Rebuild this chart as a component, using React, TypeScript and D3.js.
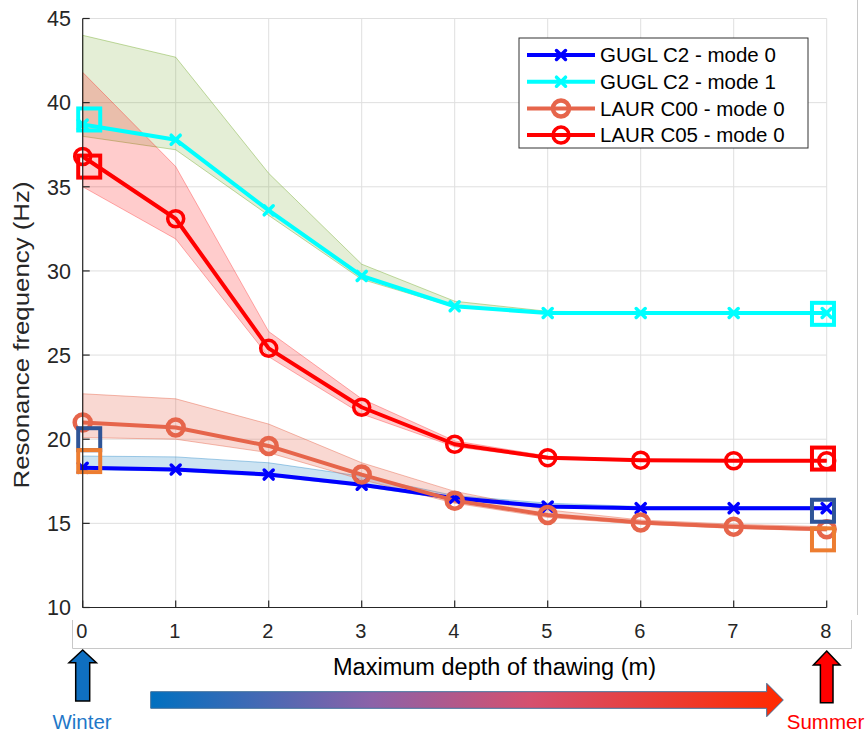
import React from "react";
import * as d3 from "d3";

const depth = [0, 1, 2, 3, 4, 5, 6, 7, 8];
const xTicks = [0, 1, 2, 3, 4, 5, 6, 7, 8];
const yTicks = [10, 15, 20, 25, 30, 35, 40, 45];

const guglMode0 = [18.3, 18.2, 17.9, 17.3, 16.5, 16.0, 15.9, 15.9, 15.9];
const guglMode0Upper = [19.0, 18.95, 18.6, 17.8, 16.65, 16.2, 16.0, 16.0, 16.0];
const guglMode0Lower = [18.2, 18.1, 17.8, 17.2, 16.4, 15.9, 15.85, 15.85, 15.85];

const guglMode1 = [38.7, 37.8, 33.6, 29.7, 27.9, 27.5, 27.5, 27.5, 27.5];
const guglMode1Upper = [44.0, 42.7, 35.8, 30.4, 28.2, 27.6, 27.55, 27.55, 27.55];
const guglMode1Lower = [38.0, 37.2, 33.3, 29.5, 27.85, 27.45, 27.45, 27.45, 27.45];

const laurC00 = [21.0, 20.7, 19.6, 17.9, 16.35, 15.5, 15.05, 14.8, 14.65];
const laurC00Upper = [22.7, 22.4, 20.9, 18.6, 16.9, 15.8, 15.2, 14.95, 14.8];
const laurC00Lower = [20.1, 20.0, 19.2, 17.6, 16.2, 15.35, 14.95, 14.7, 14.55];

const laurC05 = [36.8, 33.1, 25.4, 21.9, 19.7, 18.9, 18.75, 18.72, 18.72];
const laurC05Upper = [41.8, 36.2, 26.4, 22.4, 19.9, 19.0, 18.8, 18.78, 18.78];
const laurC05Lower = [35.0, 31.9, 24.9, 21.5, 19.55, 18.85, 18.7, 18.68, 18.68];

const squareX = [0.07, 7.96];
const squareWinter = [39.0, 36.2, 20.0, 18.7];
const squareSummer = [27.45, 18.85, 15.75, 14.05];
const squareColors = ["#00FFFF", "#FF0000", "#2F5597", "#ED7D31"];

const seriesNames = ["GUGL C2 - mode 0", "GUGL C2 - mode 1", "LAUR C00 - mode 0", "LAUR C05 - mode 0"];

const W = 866;
const H = 736;
const FONT = "'Liberation Sans', Arial, Helvetica, sans-serif";

export default function App() {
  const x = d3.scaleLinear().domain([0, 8]).range([82.7, 826.7]);
  const y = d3.scaleLinear().domain([10, 45]).range([607.5, 18.5]);

  const series = [
    { name: seriesNames[0], v: guglMode0, up: guglMode0Upper, lo: guglMode0Lower, color: "#0000FF", marker: "x", bandFill: "rgb(0,114,189)", bandOpacity: 0.2, bandEdge: "rgba(0,114,189,0.35)" },
    { name: seriesNames[1], v: guglMode1, up: guglMode1Upper, lo: guglMode1Lower, color: "#00FFFF", marker: "x", bandFill: "rgb(119,172,48)", bandOpacity: 0.2, bandEdge: "rgba(119,172,48,0.45)" },
    { name: seriesNames[2], v: laurC00, up: laurC00Upper, lo: laurC00Lower, color: "#E6654B", marker: "o", bandFill: "rgb(230,101,75)", bandOpacity: 0.25, bandEdge: "rgba(230,101,75,0.45)" },
    { name: seriesNames[3], v: laurC05, up: laurC05Upper, lo: laurC05Lower, color: "#FF0000", marker: "o", bandFill: "rgb(255,0,0)", bandOpacity: 0.2, bandEdge: "rgba(255,0,0,0.3)" },
  ];

  const area = d3
    .area<number>()
    .x((_, i) => x(depth[i]))
    .y0((_, i) => 0)
    .y1((_, i) => 0);

  const bandPath = (up: number[], lo: number[]) =>
    d3
      .area<number>()
      .x((_, i) => x(depth[i]))
      .y0((_, i) => y(lo[i]))
      .y1((_, i) => y(up[i]))(depth) as string;

  const linePath = (v: number[]) =>
    d3
      .line<number>()
      .x((_, i) => x(depth[i]))
      .y((d) => y(d))(v) as string;

  const drawMarker = (kind: string, cx: number, cy: number, color: string, key: string, isSalmon = false) => {
    if (kind === "x") {
      const s = 4.5;
      return (
        <g key={key} stroke={color} strokeWidth={3.5} strokeLinecap="round">
          <line x1={cx - s} y1={cy - s} x2={cx + s} y2={cy + s} />
          <line x1={cx - s} y1={cy + s} x2={cx + s} y2={cy - s} />
        </g>
      );
    }
    return <circle key={key} cx={cx} cy={cy} r={isSalmon ? 8 : 8} fill="none" stroke={color} strokeWidth={isSalmon ? 4.5 : 3.5} />;
  };

  const legendX = 519;
  const legendY = 38;
  const legendW = 289;
  const legendH = 110;
  const rowY = (i: number) => legendY + 17 + i * 26.7;

  // bottom decorations
  const wx = x(0);
  const sx = x(8);
  const upArrow = (cx: number, tipY: number, headHalf: number, headBottom: number, shaftHalf: number, bottom: number) =>
    `M${cx},${tipY} L${cx + headHalf},${headBottom} L${cx + shaftHalf},${headBottom} L${cx + shaftHalf},${bottom} L${cx - shaftHalf},${bottom} L${cx - shaftHalf},${headBottom} L${cx - headHalf},${headBottom} Z`;

  const gArrowPath = `M150.7,691.7 L766.7,691.7 L766.7,683.3 L783.3,700 L766.7,716.7 L766.7,708.3 L150.7,708.3 Z`;

  return (
    <svg width={W} height={H} style={{ position: "absolute", left: 0, top: 0, background: "#fff" }} fontFamily={FONT}>
      <defs>
        <linearGradient id="thawGrad" x1="0" x2="1" y1="0" y2="0">
          <stop offset="0" stopColor="#0070C0" />
          <stop offset="0.35" stopColor="#8C62A8" />
          <stop offset="0.6" stopColor="#D5506F" />
          <stop offset="1" stopColor="#FF2A00" />
        </linearGradient>
      </defs>
      <rect x={0} y={0} width={W} height={H} fill="#fff" />

      {/* grid */}
      <g stroke="#DFDFDF" strokeWidth={1}>
        {xTicks.map((t) => (
          <line key={"gx" + t} x1={x(t)} x2={x(t)} y1={y(45)} y2={y(10)} />
        ))}
        {yTicks.map((t) => (
          <line key={"gy" + t} x1={x(0)} x2={x(8)} y1={y(t)} y2={y(t)} />
        ))}
      </g>

      {/* bands */}
      {series.map((s, i) => (
        <path key={"band" + i} d={bandPath(s.up, s.lo)} fill={s.bandFill} fillOpacity={s.bandOpacity} stroke={s.bandEdge} strokeWidth={1} />
      ))}

      {/* lines */}
      {series.map((s, i) => (
        <path key={"line" + i} d={linePath(s.v)} fill="none" stroke={s.color} strokeWidth={4} strokeLinejoin="round" />
      ))}
      {series.map((s, i) =>
        s.v.map((v, j) => drawMarker(s.marker, x(depth[j]), y(v), s.color, `m${i}-${j}`, i === 2))
      )}

      {/* highlight squares */}
      {squareColors.map((c, i) => (
        <g key={"sq" + i} fill="none" stroke={c} strokeWidth={4}>
          <rect x={x(squareX[0]) - 11} y={y(squareWinter[i]) - 11} width={22} height={22} />
          <rect x={x(squareX[1]) - 11} y={y(squareSummer[i]) - 11} width={22} height={22} />
        </g>
      ))}

      {/* axes */}
      <g stroke="#262626" strokeWidth={1.2} fill="none">
        <line x1={x(0)} x2={x(0)} y1={y(45)} y2={y(10)} />
        <line x1={x(0)} x2={x(8)} y1={y(10)} y2={y(10)} />
        {yTicks.map((t) => (
          <line key={"ty" + t} x1={x(0)} x2={x(0) + 7} y1={y(t)} y2={y(t)} />
        ))}
        {xTicks.map((t) => (
          <line key={"tx" + t} x1={x(t)} x2={x(t)} y1={y(10)} y2={y(10) - 7} />
        ))}
      </g>
      <g fill="#262626" fontSize={21.5} textAnchor="end">
        {yTicks.map((t) => (
          <text key={"yl" + t} x={71} y={y(t)} dy="0.36em">
            {t}
          </text>
        ))}
      </g>
      <text
        transform={`translate(29,335) rotate(-90)`}
        textAnchor="middle"
        fontSize={22}
        fill="#262626"
        textLength={307}
        lengthAdjust="spacingAndGlyphs"
      >
        Resonance frequency (Hz)
      </text>

      {/* legend */}
      <rect x={legendX} y={legendY} width={legendW} height={legendH} fill="#fff" stroke="#333" strokeWidth={1} />
      {series.map((s, i) => (
        <g key={"lg" + i}>
          <line x1={527} x2={595} y1={rowY(i)} y2={rowY(i)} stroke={s.color} strokeWidth={4} />
          {drawMarker(s.marker, 561, rowY(i), s.color, "lm" + i, i === 2)}
          <text x={600} y={rowY(i)} dy="0.36em" fontSize={20.5} fill="#000">
            {s.name}
          </text>
        </g>
      ))}

      {/* pasted-image borders */}
      <g stroke="#C8C8C8" strokeWidth={1} fill="none">
        <line x1={857.5} x2={857.5} y1={0} y2={615} />
        <path d="M72.5,620 L72.5,648.5 L851.5,648.5 L851.5,620" />
      </g>

      {/* x tick labels */}
      <g fill="#262626" fontSize={20} textAnchor="middle">
        {xTicks.map((t) => (
          <text key={"xl" + t} x={x(t) - 1} y={637.5}>
            {t}
          </text>
        ))}
      </g>

      {/* bottom annotations */}
      <path d={upArrow(wx, 650, 13.7, 662.7, 7, 701)} fill="#0F6FC0" stroke="#000" strokeWidth={1.5} strokeLinejoin="miter" />
      <path d={upArrow(sx, 651, 13.3, 665, 6.3, 702.7)} fill="#FF0000" stroke="#000" strokeWidth={1.5} strokeLinejoin="miter" />
      <path d={gArrowPath} fill="url(#thawGrad)" stroke="#41719C" strokeWidth={1} />
      <text x={494.5} y={675} textAnchor="middle" fontSize={23} fill="#000" textLength={323} lengthAdjust="spacingAndGlyphs">
        Maximum depth of thawing (m)
      </text>
      <text x={82} y={729} textAnchor="middle" fontSize={20.5} fill="#1F78C8">
        Winter
      </text>
      <text x={825.5} y={729} textAnchor="middle" fontSize={20.5} fill="#FF0000">
        Summer
      </text>
    </svg>
  );
}
